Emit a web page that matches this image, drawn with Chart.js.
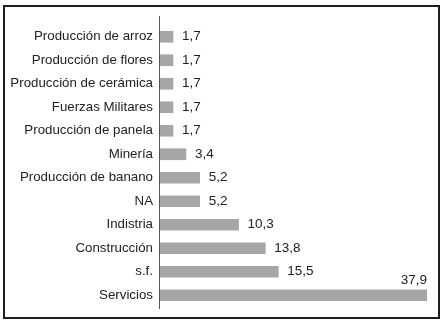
<!DOCTYPE html>
<html>
<head>
<meta charset="utf-8">
<script src="https://cdn.jsdelivr.net/npm/chart.js@4"></script>
<style>
  html, body { margin: 0; padding: 0; background: #fff; }
  #wrap { width: 443px; height: 322px; position: relative; }
</style>
</head>
<body>
<div id="wrap"><canvas id="chart"></canvas></div>
<script>
// categories and values
const categories = [
  'Producción de arroz', 'Producción de flores', 'Producción de cerámica',
  'Fuerzas Militares', 'Producción de panela', 'Minería',
  'Producción de banano', 'NA', 'Indistria', 'Construcción', 's.f.', 'Servicios'
];
const values = [1.7, 1.7, 1.7, 1.7, 1.7, 3.4, 5.2, 5.2, 10.3, 13.8, 15.5, 37.9];
const valueLabels = ['1,7', '1,7', '1,7', '1,7', '1,7', '3,4', '5,2', '5,2', '10,3', '13,8', '15,5', '37,9'];

const FONT = 'Liberation Sans, Arial, Helvetica, sans-serif';

// frame round the whole picture and the vertical axis line
const framePlugin = {
  id: 'frame',
  afterDraw(chart) {
    const ctx = chart.ctx;
    const area = chart.chartArea;
    ctx.save();
    ctx.strokeStyle = '#1e1e1e';
    ctx.lineWidth = 2;
    ctx.strokeRect(4, 6, 435, 312);
    ctx.strokeStyle = '#555';
    ctx.lineWidth = 1;
    ctx.beginPath();
    ctx.moveTo(area.left - 0.5, area.top - 9);
    ctx.lineTo(area.left - 0.5, area.bottom + 2);
    ctx.stroke();
    ctx.restore();
  }
};

// value labels next to each bar
const valuePlugin = {
  id: 'values',
  afterDatasetsDraw(chart) {
    const ctx = chart.ctx;
    const meta = chart.getDatasetMeta(0);
    const area = chart.chartArea;
    ctx.save();
    ctx.font = '13.5px ' + FONT;
    ctx.fillStyle = '#222';
    ctx.textBaseline = 'middle';
    meta.data.forEach((bar, i) => {
      if (bar.x >= area.right - 1) {
        ctx.textAlign = 'right';
        ctx.fillText(valueLabels[i], area.right, bar.y - 15);
      } else {
        ctx.textAlign = 'left';
        ctx.fillText(valueLabels[i], bar.x + 9, bar.y);
      }
    });
    ctx.restore();
  }
};

new Chart(document.getElementById('chart'), {
  type: 'bar',
  data: {
    labels: categories,
    datasets: [{
      data: values,
      backgroundColor: '#a6a6a6',
      borderWidth: 0,
      barThickness: 11
    }]
  },
  options: {
    indexAxis: 'y',
    responsive: true,
    maintainAspectRatio: false,
    animation: false,
    layout: { padding: { left: 0, right: 16, top: 25, bottom: 11 } },
    plugins: {
      legend: { display: false },
      tooltip: { enabled: false }
    },
    scales: {
      x: {
        display: false,
        min: 0,
        max: 35
      },
      y: {
        afterFit(scale) { scale.width = 160; },
        grid: { display: false, drawTicks: false },
        border: { display: false },
        ticks: {
          padding: 7,
          color: '#222',
          font: { family: FONT, size: 13.3 }
        }
      }
    }
  },
  plugins: [framePlugin, valuePlugin]
});
</script>
</body>
</html>
